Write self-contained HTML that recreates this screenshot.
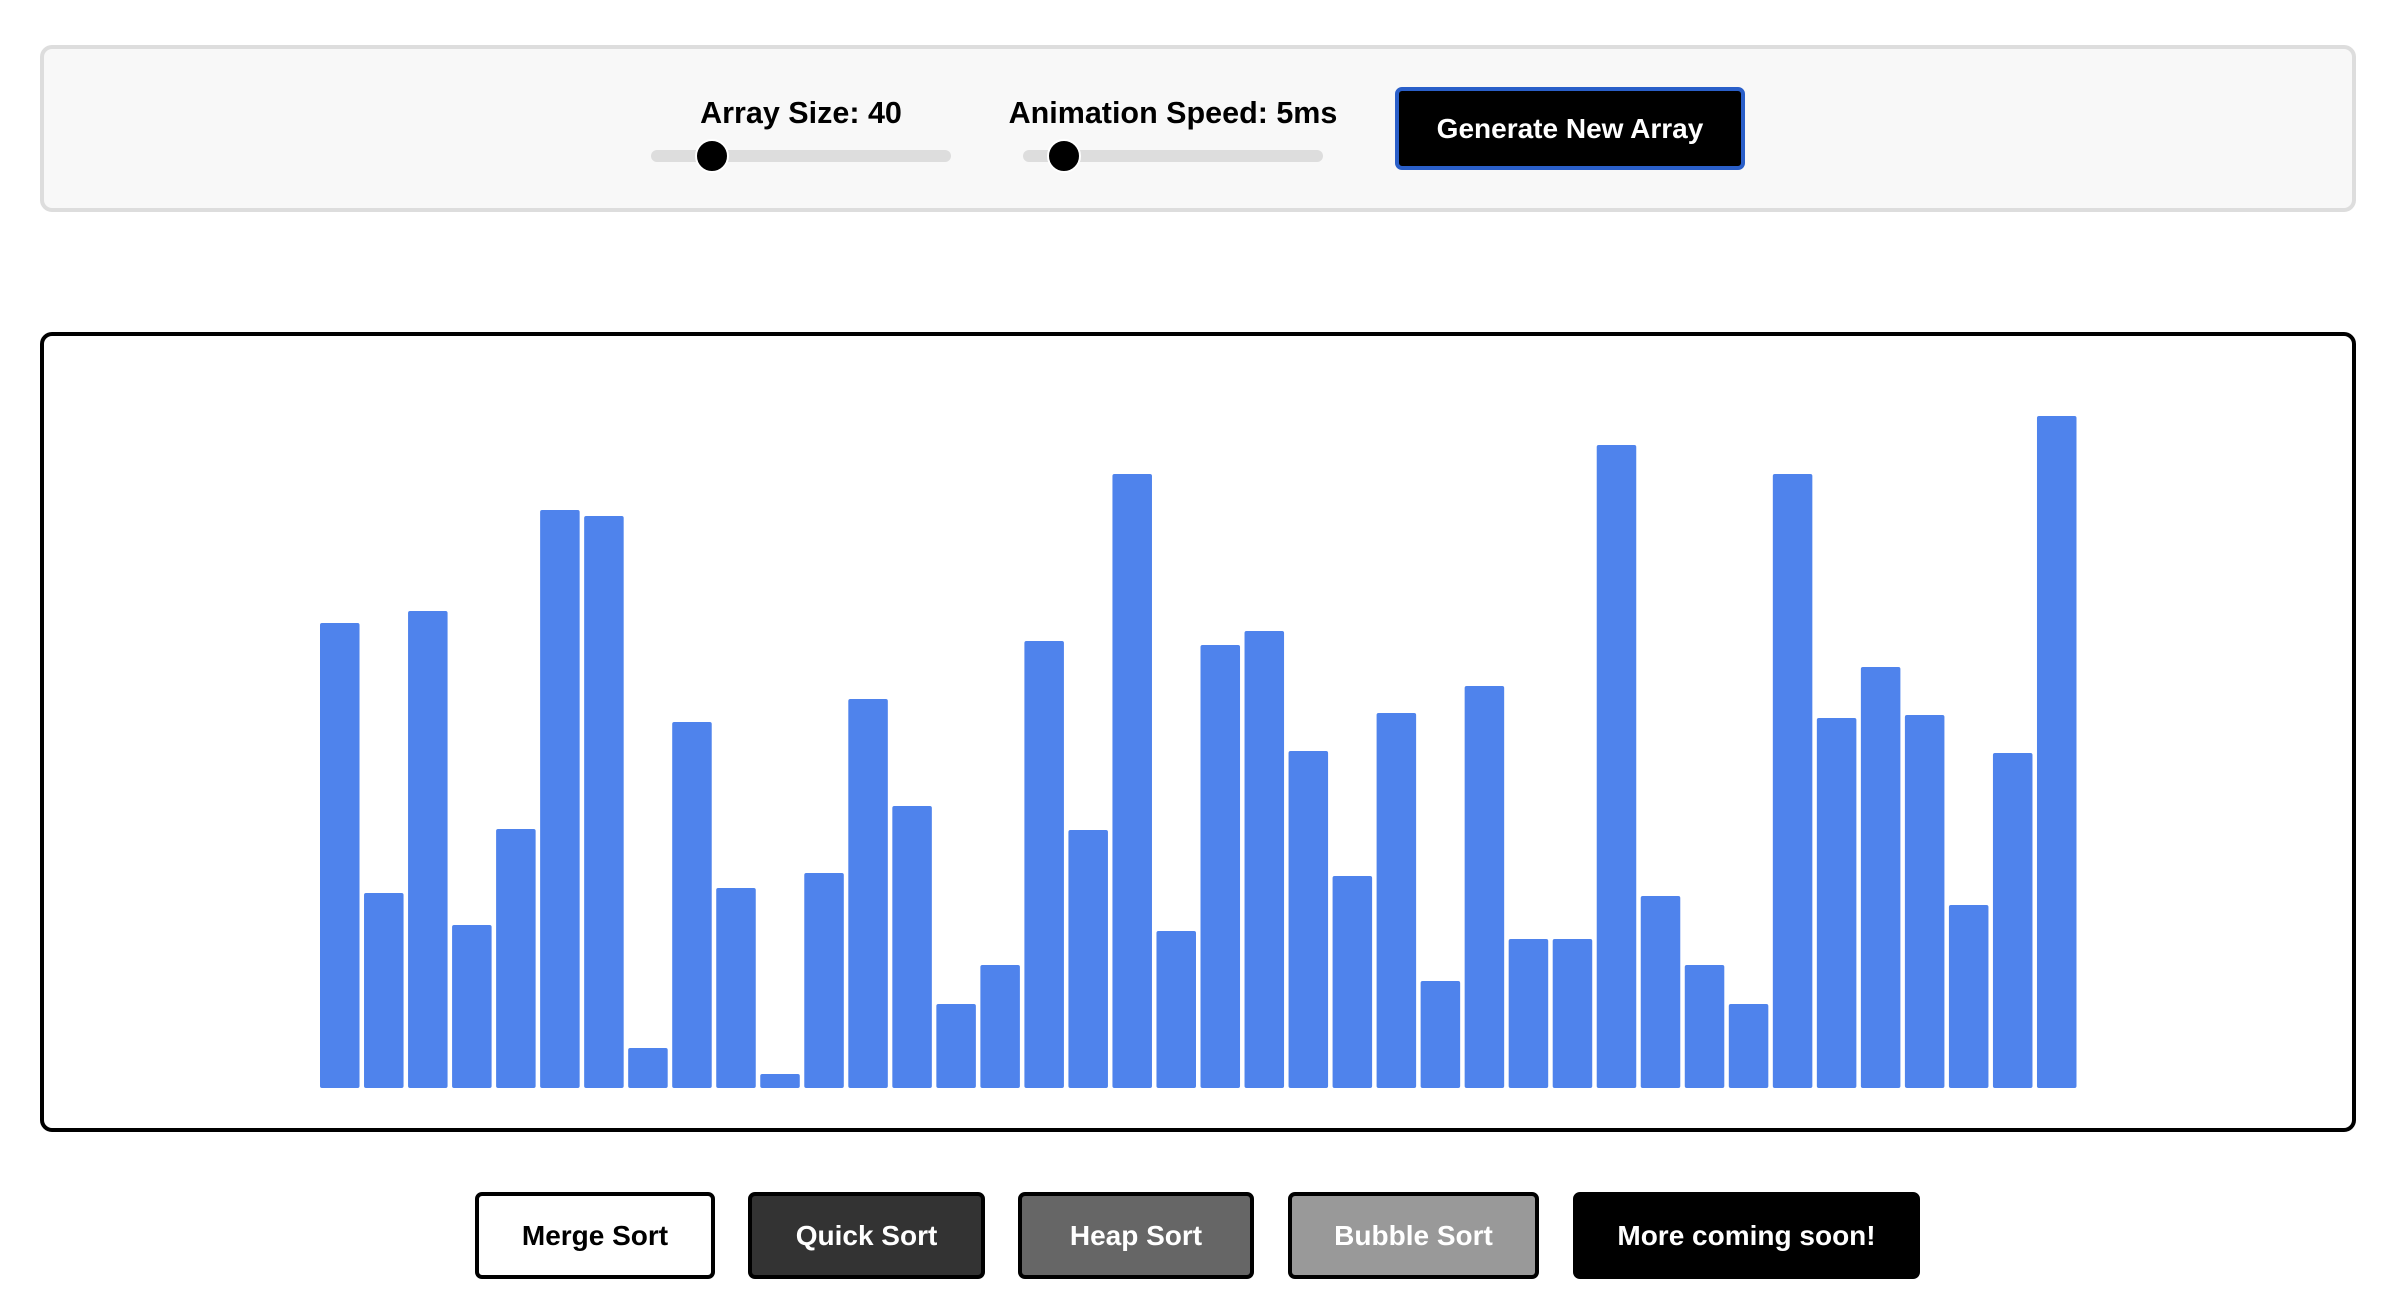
<!DOCTYPE html>
<html><head><meta charset="utf-8"><style>
html,body{margin:0;padding:0;background:#fff;width:2390px;height:1298px;overflow:hidden;font-family:"Liberation Sans",Arial,sans-serif;font-weight:bold}
.abs{position:absolute;box-sizing:border-box}
.lbl{font-size:30.5px;color:#000;white-space:nowrap;text-align:center}
.track{background:#ddd;border-radius:7px;height:12px}
.thumb{width:34px;height:34px;border-radius:50%;background:#000;border:2px solid #fff}
.btn{border:4px solid #000;border-radius:7px;font-size:28px;display:flex;align-items:center;justify-content:center;white-space:nowrap}
</style></head><body>
<div class="abs" style="left:40px;top:45px;width:2316px;height:167px;background:#f8f8f8;border:4px solid #ddd;border-radius:12px"></div>
<div class="abs lbl" style="left:651px;top:96px;width:300px">Array Size: 40</div>
<div class="abs track" style="left:651px;top:150px;width:300px"></div>
<div class="abs thumb" style="left:695px;top:139px"></div>
<div class="abs lbl" style="left:1003px;top:96px;width:340px">Animation Speed: 5ms</div>
<div class="abs track" style="left:1023px;top:150px;width:300px"></div>
<div class="abs thumb" style="left:1047px;top:139px"></div>
<div class="abs btn" style="left:1395px;top:87px;width:350px;height:83px;background:#000;color:#fff;border-color:#2a5fc9">Generate New Array</div>

<div class="abs" style="left:40px;top:332px;width:2316px;height:800px;border:4px solid #000;border-radius:12px"></div>
<svg class="abs" id="chart" style="left:0;top:0" width="2390" height="1298"></svg>

<div class="abs btn" style="left:475px;top:1192px;width:240px;height:87px;background:#fff;color:#000">Merge Sort</div>
<div class="abs btn" style="left:748px;top:1192px;width:237px;height:87px;background:#333;color:#fff">Quick Sort</div>
<div class="abs btn" style="left:1018px;top:1192px;width:236px;height:87px;background:#666;color:#fff">Heap Sort</div>
<div class="abs btn" style="left:1288px;top:1192px;width:251px;height:87px;background:#999;color:#fff">Bubble Sort</div>
<div class="abs btn" style="left:1573px;top:1192px;width:347px;height:87px;background:#000;color:#fff">More coming soon!</div>
<script>
const values=[465,195,477,163,259,578,572,40,366,200,14,215,389,282,84,123,447,258,614,157,443,457,337,212,375,107,402,149,149,643,192,123,84,614,370,421,373,183,335,672];
const x0=320,x1=2081,base=1088;
function xPos(i){return x0+i*(x1-x0)/values.length;}
function yPos(v){return base-v;}
const svg=document.getElementById('chart');
const pitch=(x1-x0)/values.length;
values.forEach((v,i)=>{
  const r=document.createElementNS('http://www.w3.org/2000/svg','rect');
  r.setAttribute('x',xPos(i));
  r.setAttribute('y',yPos(v));
  r.setAttribute('width',pitch-4.5);
  r.setAttribute('height',v);
  r.setAttribute('rx',2);
  r.setAttribute('fill','#4f83ec');
  
  
  svg.appendChild(r);
});
</script>
</body></html>
